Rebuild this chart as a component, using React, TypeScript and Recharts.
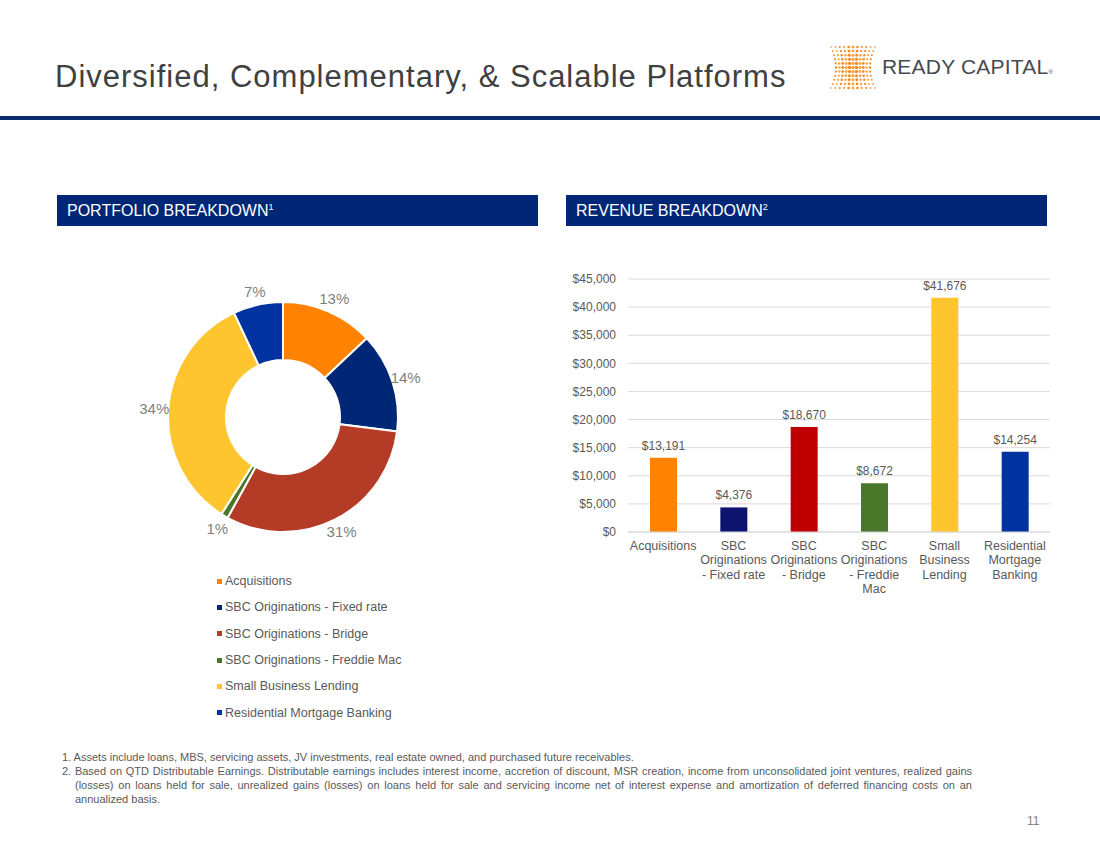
import React from 'react';
import { BarChart, Bar, XAxis, YAxis, CartesianGrid, LabelList, Cell, PieChart, Pie, Legend } from 'recharts';

// shared categories (pie legend + bar x axis)
const categories = [
  'Acquisitions',
  'SBC Originations - Fixed rate',
  'SBC Originations - Bridge',
  'SBC Originations - Freddie Mac',
  'Small Business Lending',
  'Residential Mortgage Banking',
];

// portfolio breakdown, % of total
const portfolioShare = [13, 14, 31, 1, 34, 7];

// revenue breakdown, $ thousands
const revenue = [13191, 4376, 18670, 8672, 41676, 14254];

// wrapped x axis tick labels
const tickLines = [
  ['Acquisitions'],
  ['SBC', 'Originations', '- Fixed rate'],
  ['SBC', 'Originations', '- Bridge'],
  ['SBC', 'Originations', '- Freddie', 'Mac'],
  ['Small', 'Business', 'Lending'],
  ['Residential', 'Mortgage', 'Banking'],
];

const yTicks = [0, 5000, 10000, 15000, 20000, 25000, 30000, 35000, 40000, 45000];

const pieColors = ['#FF8200', '#002776', '#B43C27', '#4A7729', '#FFC52F', '#0033A0'];
const barColors = ['#FF8200', '#0C1470', '#C00000', '#4A7729', '#FFC52F', '#0033A0'];

const FONT = '"Liberation Sans", Arial, Helvetica, sans-serif';
const NAVY = '#002776';

const pieData = categories.map((name, i) => ({ name, value: portfolioShare[i] }));
const barData = categories.map((name, i) => ({ name, value: revenue[i] }));

const money = (v: number) => `$${v.toLocaleString('en-US')}`;

const RADIAN = Math.PI / 180;

const PieLabel = ({ cx, cy, midAngle, outerRadius, value }: any) => {
  const r = outerRadius + 14;
  const x = cx + r * Math.cos(-midAngle * RADIAN);
  const y = cy + r * Math.sin(-midAngle * RADIAN);
  return (
    <text x={x} y={y} fill="#7F7F7F" fontSize={15} fontFamily={FONT} textAnchor="middle" dominantBaseline="central">
      {value}%
    </text>
  );
};

// legend keeps the slice order (recharts would sort it by name)
const PieLegend = () => (
  <ul style={{ listStyle: 'none', margin: 0, padding: 0, fontFamily: FONT }}>
    {categories.map((name, i) => (
      <li key={name} style={{ height: 26.3, display: 'flex', alignItems: 'center', fontSize: 12.5, color: '#595959' }}>
        <span style={{ width: 5, height: 5, background: pieColors[i], marginRight: 3, display: 'inline-block' }} />
        {name}
      </li>
    ))}
  </ul>
);

const CategoryTick = ({ x, y, payload }: any) => {
  const lines = tickLines[payload.index] || [payload.value];
  return (
    <text x={x} y={y} fill="#595959" fontSize={12.5} fontFamily={FONT} textAnchor="middle">
      {lines.map((line, i) => (
        <tspan key={i} x={x} dy={i === 0 ? 10 : 14.3}>
          {line}
        </tspan>
      ))}
    </text>
  );
};

const SectionHeader = ({ left, text, sup }: { left: number; text: string; sup: string }) => (
  <div
    style={{
      position: 'absolute', left, top: 195, width: 481, height: 31, background: NAVY,
      color: '#fff', fontSize: 16, lineHeight: '31px', paddingLeft: 10, boxSizing: 'border-box',
    }}
  >
    {text}
    <sup style={{ fontSize: 9, verticalAlign: 'top', lineHeight: '24px' }}>{sup}</sup>
  </div>
);

// decorative dot-globe mark of the logo
const LogoMark = () => {
  const dots = [];
  for (let r = 0; r < 11; r++) {
    const t = (r - 5) / 5;
    const half = 17 + 5 * t * t;
    for (let c = 0; c < 11; c++) {
      const u = (c - 5) / 5;
      const size = 1.8 - 0.6 * Math.abs(u) - 0.4 * Math.abs(t);
      dots.push(
        <circle key={`${r}-${c}`} cx={23 + half * u} cy={4 + r * 4.1} r={size} fill={c % 2 ? '#F7A54A' : '#F48A1C'} />,
      );
    }
  }
  return (
    <svg width={46} height={50} style={{ position: 'absolute', left: 830, top: 43 }}>
      {dots}
    </svg>
  );
};

export default function App() {
  return (
    <div style={{ position: 'absolute', left: 0, top: 0, width: 1100, height: 850, background: '#fff', fontFamily: FONT, overflow: 'hidden' }}>
      <div style={{ position: 'absolute', left: 55, top: 59, fontSize: 31, letterSpacing: 1, color: '#404040', whiteSpace: 'nowrap' }}>
        Diversified, Complementary, &amp; Scalable Platforms
      </div>
      <LogoMark />
      <div style={{ position: 'absolute', left: 882, top: 55, fontSize: 21, color: '#464B52', letterSpacing: 0.2, whiteSpace: 'nowrap' }}>
        READY CAPITAL<span style={{ fontSize: 6, verticalAlign: 'baseline' }}>®</span>
      </div>
      <div style={{ position: 'absolute', left: 0, top: 116, width: 1100, height: 4, background: '#0C2A6E' }} />

      <SectionHeader left={57} text="PORTFOLIO BREAKDOWN" sup="1" />
      <SectionHeader left={566} text="REVENUE BREAKDOWN" sup="2" />

      <div style={{ position: 'absolute', left: 40, top: 280 }}>
        <PieChart width={490} height={460} margin={{ top: 0, right: 0, bottom: 0, left: 0 }}>
          <Pie
            data={pieData}
            dataKey="value"
            nameKey="name"
            cx={243}
            cy={137}
            innerRadius={57}
            outerRadius={115}
            startAngle={90}
            endAngle={-270}
            stroke="#fff"
            strokeWidth={2}
            label={PieLabel}
            labelLine={false}
            isAnimationActive={false}
          >
            {pieData.map((d, i) => (
              <Cell key={d.name} fill={pieColors[i]} />
            ))}
          </Pie>
          <Legend
            layout="vertical"
            content={PieLegend}
            wrapperStyle={{ left: 177, top: 288, width: 260, bottom: 'auto', right: 'auto' }}
          />
        </PieChart>
      </div>

      <div style={{ position: 'absolute', left: 560, top: 265 }}>
        <BarChart width={500} height={337} data={barData} margin={{ top: 14, right: 10, bottom: 0, left: 0 }} barSize={27}>
          <CartesianGrid vertical={false} stroke="#D9D9D9" />
          <XAxis
            dataKey="name"
            interval={0}
            height={70}
            tick={<CategoryTick />}
            tickLine={false}
            axisLine={{ stroke: '#D9D9D9' }}
          />
          <YAxis
            width={68}
            domain={[0, 45000]}
            ticks={yTicks}
            tickFormatter={money}
            tick={{ fill: '#595959', fontSize: 12, fontFamily: FONT }}
            tickLine={false}
            axisLine={false}
            tickSize={0}
            tickMargin={12}
          />
          <Bar dataKey="value" isAnimationActive={false}>
            {barData.map((d, i) => (
              <Cell key={d.name} fill={barColors[i]} />
            ))}
            <LabelList dataKey="value" position="top" offset={8} formatter={(v: any) => money(Number(v))} fill="#595959" fontSize={12} fontFamily={FONT} />
          </Bar>
        </BarChart>
      </div>

      <div style={{ position: 'absolute', left: 62, top: 750, width: 910, fontSize: 11, lineHeight: '14px', color: '#595959' }}>
        <div style={{ paddingLeft: 13, textIndent: -13 }}>
          1. Assets include loans, MBS, servicing assets, JV investments, real estate owned, and purchased future receivables.
        </div>
        <div style={{ paddingLeft: 13, textIndent: -13, textAlign: 'justify' }}>
          2. Based on QTD Distributable Earnings. Distributable earnings includes interest income, accretion of discount, MSR creation, income from unconsolidated joint ventures, realized gains (losses) on loans held for sale, unrealized gains (losses) on loans held for sale and servicing income net of interest expense and amortization of deferred financing costs on an annualized basis.
        </div>
      </div>
      <div style={{ position: 'absolute', left: 1027, top: 814, fontSize: 12, color: '#808080' }}>11</div>
    </div>
  );
}
